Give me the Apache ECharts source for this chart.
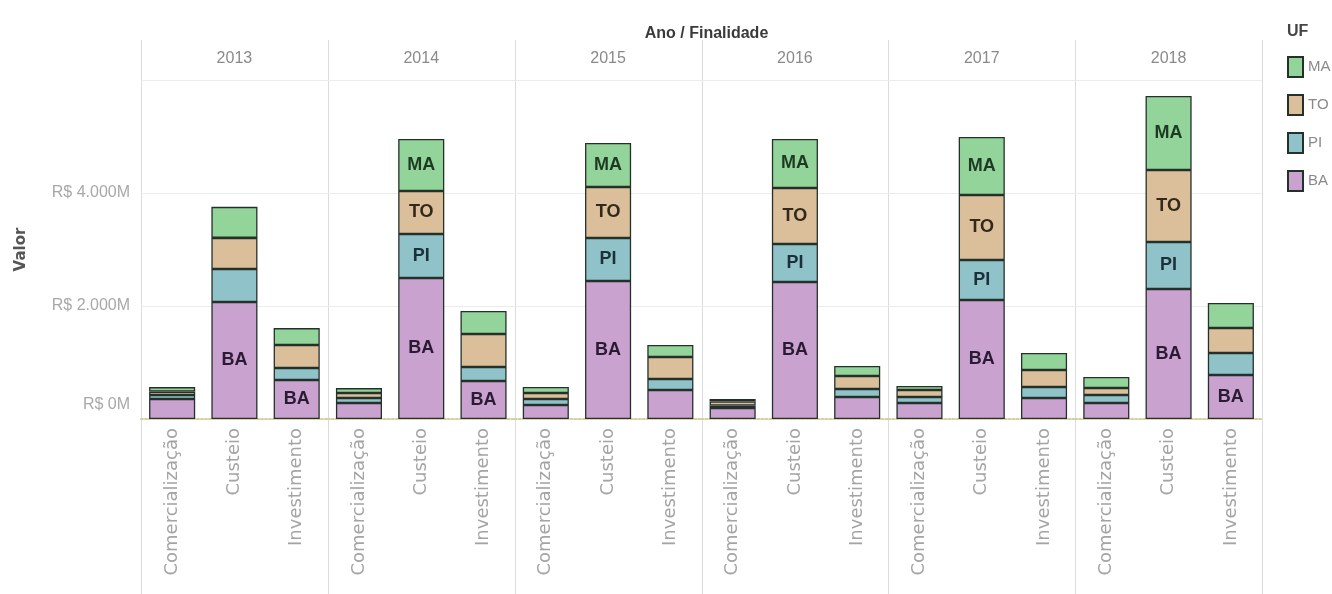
<!DOCTYPE html>
<html>
<head>
<meta charset="utf-8">
<script src="https://cdn.jsdelivr.net/npm/echarts@6/dist/echarts.min.js"></script>
<style>
html,body{margin:0;padding:0;background:#fff;}
#chart{width:1332px;height:594px;}
</style>
</head>
<body>
<div id="chart"></div>
<script>
// ---- data (R$ milhões) ----
const years = ['2013','2014','2015','2016','2017','2018'];
const finalidades = ['Comercialização','Custeio','Investimento'];
const ufs = ['BA','PI','TO','MA'];
// values per year: [Comercialização, Custeio, Investimento]
const BA = [[355,2070,690],[283,2495,673],[248,2443,513],[195,2425,389],[283,2106,372],[283,2301,779]];
const PI = [[70,585,212],[88,779,248],[106,761,195],[45,673,142],[106,708,195],[142,832,389]];
const TO = [[60,550,407],[88,761,584],[106,903,389],[70,991,230],[124,1150,301],[124,1274,443]];
const MA = [[80,550,300],[88,920,407],[106,779,212],[45,867,177],[71,1027,301],[195,1310,443]];
const yTicks = [0,2000,4000,6000];
const labelMin = 600;

const seriesValues = {BA: BA, PI: PI, TO: TO, MA: MA};
const fillColors = {BA:'#c9a2cf', PI:'#8fc3c9', TO:'#dbbf9a', MA:'#93d49a'};
const textColors = {BA:'#2a1a33', PI:'#1b3038', TO:'#33281a', MA:'#1d3a22'};

const NARROW = "'Liberation Sans', sans-serif";
const WIDE = "'DejaVu Sans', 'Open Sans', sans-serif";

const chart = echarts.init(document.getElementById('chart'));

const L = 141, R = 1262, TOP = 80, BASE = 419;
const pw = (R - L) / years.length;

function fmt(v){
  return 'R$ ' + String(v).replace(/\B(?=(\d{3})+(?!\d))/g, '.') + 'M';
}

const grids = [], xAxes = [], yAxes = [], series = [];
years.forEach((yr, i) => {
  grids.push({left: L + pw*i, width: pw, top: TOP, height: BASE - TOP, containLabel: false});
  xAxes.push({
    type: 'category', gridIndex: i, data: finalidades, position: 'bottom',
    axisTick: {show: false},
    axisLine: {show: true, lineStyle: {color: '#d6d0a0', type: 'dotted', width: 2}},
    axisLabel: {rotate: 90, margin: 9, color: '#a4a4a4', fontSize: 18, fontFamily: WIDE}
  });
  xAxes.push({
    type: 'category', gridIndex: i, data: [yr], position: 'top',
    axisTick: {show: false}, axisLine: {show: false},
    axisLabel: {margin: 13, color: '#8a8a8a', fontSize: 16, fontFamily: NARROW}
  });
  yAxes.push({
    type: 'value', gridIndex: i, min: yTicks[0], max: yTicks[yTicks.length-1], interval: 2000,
    axisLine: {show: false}, axisTick: {show: false},
    splitLine: {show: true, lineStyle: {color: '#ececec', width: 1}},
    name: i === 0 ? 'Valor' : '', nameLocation: 'middle', nameRotate: 90, nameGap: 112,
    nameTextStyle: {color: '#555', fontSize: 15, fontWeight: 'bold', fontFamily: WIDE},
    axisLabel: {
      show: i === 0, showMaxLabel: false, margin: 11, color: '#a8a8a8', fontSize: 16,
      fontFamily: NARROW,
      formatter: v => v === 0 ? '{z|' + fmt(v) + '}' : fmt(v),
      rich: {z: {padding: [0,0,28,0], color: '#a8a8a8', fontSize: 16, fontFamily: NARROW}}
    }
  });
  ufs.forEach(uf => {
    series.push({
      name: uf, type: 'bar', stack: 'total' + i,
      xAxisIndex: i*2, yAxisIndex: i,
      barWidth: '74%',
      data: seriesValues[uf][i],
      itemStyle: {color: fillColors[uf], borderColor: '#26302b', borderWidth: 1.3},
      label: {
        show: true, position: 'inside', color: textColors[uf], fontWeight: 'bold',
        fontSize: 18, fontFamily: NARROW,
        formatter: p => p.value >= labelMin ? uf : ''
      },
      emphasis: {disabled: true}
    });
  });
});

const graphics = [];
for (let i = 0; i <= years.length; i++) {
  const x = Math.round(L + pw*i) + 0.5;
  graphics.push({type: 'line', shape: {x1: x, y1: 40, x2: x, y2: 594},
    style: {stroke: '#dcdcdc', lineWidth: 1}, silent: true, z: 0});
}
graphics.push({type: 'line', shape: {x1: L, y1: TOP + 0.5, x2: R, y2: TOP + 0.5},
  style: {stroke: '#dcdcdc', lineWidth: 1}, silent: true, z: 0});

chart.setOption({
  animation: false,
  backgroundColor: '#ffffff',
  title: [
    {text: 'Ano / Finalidade', left: (L+R)/2, top: 21, textAlign: 'center',
      textStyle: {color: '#3a3a3a', fontSize: 16, fontWeight: 'bold', fontFamily: NARROW}},
    {text: 'UF', left: 1282, top: 19,
      textStyle: {color: '#444', fontSize: 16, fontWeight: 'bold', fontFamily: NARROW}}
  ],
  legend: {
    data: ['MA','TO','PI','BA'], orient: 'vertical', left: 1282, top: 51,
    itemWidth: 15, itemHeight: 20, itemGap: 16, icon: 'rect',
    textStyle: {color: '#8a8a8a', fontSize: 15, fontFamily: NARROW},
    selectedMode: false
  },
  grid: grids, xAxis: xAxes, yAxis: yAxes, series: series,
  graphic: graphics
});
</script>
</body>
</html>
